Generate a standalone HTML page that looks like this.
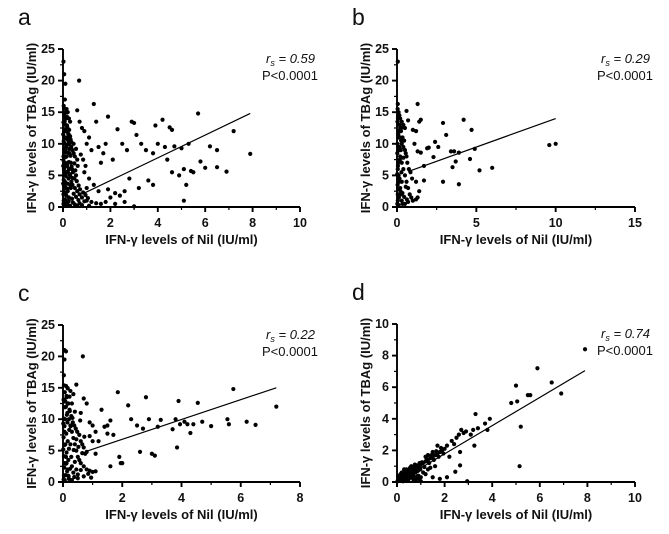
<!DOCTYPE html>
<html><head><meta charset="utf-8">
<style>
html,body{margin:0;padding:0;background:#fff;}
svg{display:block;font-family:"Liberation Sans",Arial,sans-serif;}
.tk{font-size:12.5px;font-weight:bold;fill:#111;}
.tt{font-size:13px;font-weight:bold;fill:#111;}
.an{font-size:13px;fill:#111;}
.pl{font-size:23px;fill:#111;}
</style></head>
<body>
<svg id="chart" width="669" height="534" viewBox="0 0 669 534"></svg>
<script>
// ---- data ----
const ptsA = [[0.02,23],[0.05,21],[0.1,19.5],[0.08,17],[0.03,16],[0.15,15.5],[0.2,15],[0.25,14],[0.3,13.5],[0.05,14.5],[0.1,13],[0.12,12],[0.18,11],[0.22,10.5],[0.28,10],[0.35,9.5],[0.4,9],[0.45,8.5],[0.5,8],[0.6,7.5],[0.05,12],[0.08,10],[0.1,9],[0.15,8],[0.2,7],[0.25,6],[0.3,5],[0.35,4],[0.4,3.5],[0.5,3],[0.6,2.5],[0.7,2],[0.8,1.5],[1,1],[1.2,0.8],[1.4,0.6],[1.6,0.5],[0.02,8],[0.04,6],[0.06,5],[0.08,4],[0.1,3],[0.12,2],[0.14,1],[0.16,0.5],[0.2,0.3],[0.3,0.2],[0.5,0.4],[0.7,0.6],[0.9,0.9],[0.02,2],[0.03,1],[0.05,0.5],[0.04,3.5],[0.06,7],[0.09,11],[0.13,9.5],[0.17,6.5],[0.23,4.5],[0.27,8.5],[0.33,7],[0.38,6],[0.42,5.5],[0.48,4.5],[0.55,5],[0.62,6.5],[0.68,20],[0.6,15.3],[0.7,13.5],[0.8,12.5],[0.9,12],[1.3,16.3],[1.0,10],[1.1,11],[1.2,9],[1.4,13.5],[1.5,9.5],[1.6,7],[1.7,8.5],[1.9,14.3],[1.8,10],[2.1,7.5],[2.3,12.3],[2.5,10],[2.7,9],[2.9,13.5],[3.0,13.3],[3.1,11.4],[3.3,10],[3.5,9],[3.8,8.5],[3.9,12.9],[4.2,13.8],[4.5,12.6],[4.6,12.2],[4.0,10],[4.3,9.5],[4.7,9.6],[5.0,9.3],[5.3,10],[5.7,14.8],[6.2,9.6],[6.5,9],[7.2,12],[7.9,8.4],[5.1,6],[5.4,5.7],[5.5,5.5],[6.0,6.2],[5.8,7.2],[6.5,6.3],[6.9,5.6],[4.9,5],[5.2,3.5],[5.1,1],[4.6,5.5],[4.4,7.5],[3.8,3.5],[3.6,4.2],[3.2,3],[3.0,0.1],[2.8,4.5],[2.6,2.5],[2.4,1.8],[2.2,2.2],[2.0,1.5],[1.8,0.8],[1.5,2.5],[1.3,3.5],[1.1,4.5],[1.0,3],[0.9,5.5],[2.2,0.5],[2.6,0.8],[1.9,2.8],[0.1,0.2],[0.2,2.5],[0.25,1.5],[0.3,3.5],[0.15,5.5],[0.07,13.5],[0.11,15],[0.19,12.5],[0.24,11.5],[0.32,10.7],[0.45,10],[0.55,9.2],[0.75,8.3],[0.85,7.5],[0.95,6.5]];
const bandA = [[0.02,0.5],[0.08,1.2],[0.14,1.8],[0.04,2.4],[0.1,3.1],[0.18,3.7],[0.03,4.3],[0.12,4.9],[0.2,5.6],[0.06,6.2],[0.16,6.8],[0.02,7.4],[0.11,7.9],[0.21,8.6],[0.05,9.2],[0.15,9.8],[0.03,10.4],[0.13,10.9],[0.22,11.6],[0.07,12.3],[0.17,12.9],[0.02,13.4],[0.12,14],[0.06,14.8],[0.16,14.3],[0.26,12.2],[0.3,11.2],[0.27,9.2],[0.32,8.1],[0.25,7.1],[0.36,6.4],[0.28,5.2],[0.4,4.6],[0.33,3],[0.45,2.1],[0.38,1.3],[0.55,1.6],[0.65,1.1],[0.42,0.7],[0.6,0.2],[0.8,0.3],[1.1,0.2],[0.24,0.9],[0.19,2.9],[0.09,5.4],[0.22,9.9],[0.35,10.3],[0.48,6.9],[0.52,5.8],[0.58,4.1],[0.66,3.4],[0.72,2.8],[0.85,2.3],[0.95,1.9],[1.05,1.4],[0.01,11.5],[0.01,3.7],[0.01,6.5],[0.07,8.6],[0.04,15.6]];
const ptsB = [[0.05,23],[0.05,16.3],[0.1,15],[0.2,14],[0.3,13.5],[0.4,13],[0.5,12.5],[0.1,12],[0.2,11],[0.3,10],[0.4,9.5],[0.5,9],[0.6,8],[0.1,9],[0.2,8],[0.3,7],[0.4,6],[0.5,5],[0.6,4],[0.7,3],[0.8,2],[0.9,1.5],[1.0,1],[1.2,1.2],[0.05,6],[0.1,5],[0.15,4],[0.2,3],[0.25,2],[0.3,1],[0.35,0.5],[0.05,2],[0.05,1],[0.1,0.3],[0.5,0.5],[0.7,0.8],[0.15,13],[0.25,12],[0.35,11],[0.45,10.5],[0.55,8.5],[0.65,7],[0.75,6],[0.85,5.5],[0.95,4.5],[0.6,15.2],[0.7,13.7],[1.0,12.2],[1.3,16.3],[1.2,12],[1.4,13.5],[1.5,13.8],[1.1,10],[1.3,8.8],[1.5,8.6],[1.7,6.5],[1.9,9.3],[2.0,9.4],[2.3,7.9],[2.4,10.3],[2.6,9.5],[2.9,13.3],[3.1,11.4],[3.4,8.8],[3.6,8.8],[3.9,8.6],[3.7,7.2],[3.5,6.3],[4.2,13.8],[4.7,12.2],[4.9,9.2],[4.6,7.6],[5.2,5.8],[6.0,6.2],[2.9,4],[3.9,3.6],[1.2,4],[1.4,2.5],[1.7,4.2],[1.3,1.5],[9.6,9.8],[10.0,10]];
const bandB = [[0.02,0.5],[0.12,1.5],[0.22,2.5],[0.04,3.5],[0.16,4.5],[0.28,5.5],[0.06,6.5],[0.18,7.5],[0.02,8.5],[0.14,9.5],[0.26,10.5],[0.08,11.5],[0.2,12.5],[0.03,13.5],[0.15,14.5],[0.04,15.5],[0.1,11],[0.24,9],[0.08,7],[0.3,4],[0.12,2.8],[0.34,2.2],[0.45,1.6],[0.55,3.2],[0.62,1.2],[0.4,7.8],[0.36,12.6],[0.02,5.2],[0.03,10],[0.06,14]];
const ptsC = [[0.05,21],[0.1,20.8],[0.05,19.5],[0.67,20],[0.03,17],[0.1,15.3],[0.15,15],[0.25,14.5],[0.35,14],[0.45,15.5],[0.05,13],[0.1,12],[0.15,11],[0.2,10],[0.25,9],[0.3,8],[0.35,7],[0.4,6],[0.45,5],[0.5,4],[0.55,3.5],[0.6,3],[0.7,2.5],[0.8,2],[0.9,1.8],[1.0,1.6],[1.1,1.7],[0.05,8],[0.08,6],[0.1,4],[0.12,3],[0.15,2],[0.18,1],[0.2,0.5],[0.3,0.3],[0.5,0.6],[0.05,3],[0.03,1],[0.06,0.3],[0.07,10],[0.12,13.5],[0.18,12.5],[0.22,11.5],[0.28,10.5],[0.33,9.5],[0.38,9],[0.43,8.5],[0.48,8],[0.55,7.5],[0.6,6.5],[0.65,6],[0.7,5.5],[0.75,4.5],[0.8,4.8],[0.7,13.3],[0.8,12.5],[0.6,11],[0.9,9.5],[1.0,9],[1.1,8],[1.2,6.5],[1.3,11.5],[1.1,4.5],[1.5,9],[1.6,9.8],[1.7,7.5],[1.85,14.3],[1.9,4],[1.95,3],[2.0,3],[2.2,12.2],[2.3,10],[2.5,9],[2.6,4.8],[2.7,8.5],[2.8,13.5],[2.9,10],[3.0,4.5],[3.1,4.2],[3.2,8.8],[3.3,9.9],[3.7,8.4],[3.8,10],[3.85,5.5],[3.9,12.9],[3.95,9.2],[4.1,9.6],[4.2,9.2],[4.3,7.8],[4.4,9.2],[4.55,12.6],[4.7,9.6],[5.0,8.9],[5.55,10],[5.6,9.2],[5.75,14.8],[6.2,9.6],[6.5,9.1],[7.2,12],[1.6,2.5],[1.4,8.8],[1.5,7.7],[0.9,7.3],[1.0,6.5]];
const bandC = [[0.02,0.4],[0.08,1.1],[0.14,1.7],[0.04,2.3],[0.1,2.9],[0.18,3.5],[0.03,4.1],[0.12,4.7],[0.2,5.3],[0.06,5.9],[0.16,6.5],[0.02,7.1],[0.11,7.7],[0.21,8.3],[0.05,8.9],[0.15,9.5],[0.03,10.1],[0.13,10.7],[0.23,11.3],[0.07,11.9],[0.17,12.5],[0.02,13.1],[0.12,13.7],[0.06,14.3],[0.16,14.9],[0.03,15.4],[0.25,6],[0.28,4],[0.3,2.5],[0.35,1.5],[0.4,3.2],[0.45,2],[0.38,0.8],[0.5,1.2],[0.6,1.9],[0.7,0.9],[0.85,1.3],[0.95,0.7],[0.26,8.9],[0.32,10.2],[0.3,12.5],[0.4,11.2],[0.45,6.8],[0.52,5.6],[0.58,9.8],[0.65,4.6],[0.72,7.2],[0.01,5.2],[0.01,9.3],[0.08,12.8],[0.22,13.6],[0.36,5.1],[0.24,2.1],[0.19,0.9]];
const ptsD = [[0.05,0.1],[0.1,0.2],[0.15,0.15],[0.2,0.3],[0.25,0.25],[0.3,0.4],[0.35,0.3],[0.4,0.5],[0.45,0.4],[0.5,0.6],[0.55,0.5],[0.6,0.7],[0.65,0.6],[0.7,0.8],[0.75,0.7],[0.8,0.9],[0.85,0.8],[0.9,1.0],[0.95,0.9],[1.0,1.1],[1.1,1.2],[1.2,1.3],[1.3,1.4],[1.4,1.5],[1.5,1.6],[1.6,1.7],[1.7,1.8],[1.8,1.9],[1.9,2.0],[2.0,2.1],[1.3,1.7],[1.5,1.9],[1.7,2.3],[2.1,2.3],[2.3,2.6],[2.5,2.8],[2.6,3.0],[2.7,3.3],[2.9,3.2],[3.1,3.0],[3.2,3.3],[3.3,4.3],[3.4,3.4],[3.7,3.7],[3.8,3.3],[3.9,4.0],[4.8,5.0],[5.0,6.1],[5.05,5.1],[5.5,5.5],[5.6,5.5],[5.9,7.2],[6.5,6.3],[6.9,5.6],[7.9,8.4],[5.2,3.5],[5.15,1.0],[3.25,2.3],[2.65,1.9],[2.65,1.05],[2.45,0.65],[2.1,0.3],[1.8,0.2],[2.95,0.05],[1.2,0.5],[0.9,0.4],[0.6,0.3],[0.3,0.1],[0.1,0.4],[0.2,0.6],[0.4,0.8],[0.5,0.2],[0.7,0.1],[1.0,0.3],[1.3,0.8],[1.6,1.0],[2.2,1.6],[2.4,2.4],[2.8,3.1]];
const bandD = [[0.02,0.05],[0.08,0.12],[0.12,0.3],[0.18,0.1],[0.22,0.45],[0.28,0.2],[0.32,0.55],[0.38,0.15],[0.42,0.65],[0.48,0.35],[0.52,0.75],[0.58,0.45],[0.62,0.85],[0.68,0.5],[0.72,0.95],[0.78,0.6],[0.82,1.05],[0.88,0.7],[0.92,0.2],[0.98,0.8],[1.05,1.25],[1.15,0.95],[1.25,1.45],[1.35,1.2],[1.45,1.7],[1.55,1.4],[1.65,1.95],[1.75,1.6],[1.85,2.15],[1.95,1.8],[0.15,0.5],[0.25,0.05],[0.35,0.7],[0.45,0.1],[0.55,0.9],[0.65,0.25],[0.75,1.1],[0.85,0.35],[0.95,1.2],[1.1,0.6],[1.2,1.6],[1.4,0.9],[0.05,0.35],[0.3,0.8],[0.6,1.0],[0.8,0.15],[1.0,0.05],[1.5,0.3],[0.4,0.35],[0.7,0.35]];
const lineA = [0.9,2.2,7.9,14.8];
const lineB = [0.7,5.6,10,14];
const lineC = [0.8,4.9,7.2,15];
const lineD = [0.9,0.8,7.9,7.05];
const ticksA_x=[0,2,4,6,8,10], ticksA_y=[0,5,10,15,20,25];
const ticksB_x=[0,5,10,15], ticksB_y=[0,5,10,15,20,25];
const ticksC_x=[0,2,4,6,8], ticksC_y=[0,5,10,15,20,25];
const ticksD_x=[0,2,4,6,8,10], ticksD_y=[0,2,4,6,8,10];
const rsVals=["0.59","0.29","0.22","0.74"];

const svg=document.getElementById('chart');
const NS='http://www.w3.org/2000/svg';
function mk(tag,attrs,parent){const e=document.createElementNS(NS,tag);for(const k in attrs)e.setAttribute(k,attrs[k]);(parent||svg).appendChild(e);return e;}

function panel(id,letter,L,R,T,B,xmax,ymax,xt,yt,pts,line,rs){
  const g=mk('g',{});
  
  
  const sx=v=>L+(R-L)*v/xmax, sy=v=>B-(B-T)*v/ymax;
  const lab=mk('text',{x:L-45,y:T-24,class:'pl'},g);lab.textContent=letter;
  
  
  const pg=mk('g',{fill:'#000'},g);
  
  
  pts.forEach(p=>{const c=mk('circle',{cx:sx(p[0]),cy:sy(Math.max(0,p[1])),r:2.1},pg);
    
    });
  const ln=mk('line',{x1:sx(line[0]),y1:sy(line[1]),x2:sx(line[2]),y2:sy(line[3]),stroke:'#000','stroke-width':1.2},g);
  
  
  const ax=mk('g',{stroke:'#000','stroke-width':1.9,fill:'none'},g);
  
  
  mk('line',{x1:L,y1:T,x2:L,y2:B+5},ax);
  mk('line',{x1:L-5,y1:B,x2:R,y2:B},ax);
  xt.forEach((v,i)=>{mk('line',{x1:sx(v),y1:B,x2:sx(v),y2:B+5},ax);
    if(i<xt.length-1){const m=(v+xt[i+1])/2;mk('line',{x1:sx(m),y1:B,x2:sx(m),y2:B+3,'stroke-width':1.2},ax);}
    const t=mk('text',{x:sx(v),y:B+20,'text-anchor':'middle',class:'tk'},g);t.textContent=v;
    
    });
  yt.forEach((v,i)=>{mk('line',{x1:L-5,y1:sy(v),x2:L,y2:sy(v)},ax);
    if(i<yt.length-1){const m=(v+yt[i+1])/2;mk('line',{x1:L-3,y1:sy(m),x2:L,y2:sy(m),'stroke-width':1.2},ax);}
    const t=mk('text',{x:L-8,y:sy(v)+4,'text-anchor':'end',class:'tk'},g);t.textContent=v;
    
    });
  const xtit=mk('text',{x:(L+R)/2,y:B+37,'text-anchor':'middle',class:'tt'},g);
  xtit.textContent='IFN-γ levels of Nil (IU/ml)';
  
  
  const yc=(T+B)/2;
  const ytit=mk('text',{x:L-27,y:yc,'text-anchor':'middle',class:'tt',transform:`rotate(-90 ${L-27} ${yc})`},g);
  ytit.textContent='IFN-γ levels of TBAg (IU/ml)';
  
  
  const a1=mk('text',{x:R+15,y:T+14,'text-anchor':'end',class:'an','font-style':'italic'},g);
  a1.innerHTML='r<tspan font-size="9" dy="3">s</tspan><tspan dy="-3"> = '+rs+'</tspan>';
  
  
  const a2=mk('text',{x:R+18,y:T+31,'text-anchor':'end',class:'an'},g);
  a2.textContent='P<0.0001';
  
  
}
panel('a','a',63,300,49,207,10,25,ticksA_x,ticksA_y,ptsA.concat(bandA),lineA,rsVals[0]);
panel('b','b',397,635,49,207,15,25,ticksB_x,ticksB_y,ptsB.concat(bandB),lineB,rsVals[1]);
panel('c','c',63,300,325,482,8,25,ticksC_x,ticksC_y,ptsC.concat(bandC),lineC,rsVals[2]);
panel('d','d',397,635,324,482,10,10,ticksD_x,ticksD_y,ptsD.concat(bandD),lineD,rsVals[3]);
</script>
</body></html>
